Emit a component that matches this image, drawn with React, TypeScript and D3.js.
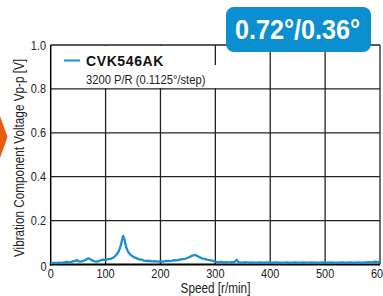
import React, { useEffect, useRef } from 'react';
import * as d3 from 'd3';

// speed [r/min] and vibration component voltage Vp-p [V]
const speeds = [
  0, 5, 10, 15, 20, 25, 30, 35, 40, 45, 48, 50, 55, 60, 65, 68, 70, 75, 80, 85,
  90, 95, 100, 105, 110, 115, 120, 124, 127, 130, 132, 134, 136, 138, 141, 145,
  150, 155, 160, 165, 170, 175, 180, 185, 190, 195, 200, 205, 210, 215, 220, 225,
  230, 235, 240, 245, 250, 255, 260, 263, 266, 270, 275, 280, 285, 290, 295, 300,
  305, 310, 315, 320, 325, 330, 335, 339, 342, 345, 350, 355, 360, 365, 370, 375,
  380, 385, 390, 395, 400, 405, 410, 415, 420, 425, 430, 435, 440, 445, 450, 455,
  460, 465, 470, 475, 480, 485, 490, 495, 500, 505, 510, 515, 520, 525, 530, 535,
  540, 545, 550, 555, 560, 565, 570, 575, 580, 585, 590, 595, 600,
];
const voltages = [
  0.005, 0.008, 0.006, 0.009, 0.007, 0.010, 0.012, 0.010, 0.014, 0.016, 0.021, 0.014, 0.013, 0.017, 0.022, 0.028, 0.027, 0.019, 0.014, 0.013,
  0.018, 0.022, 0.021, 0.024, 0.026, 0.033, 0.045, 0.060, 0.080, 0.112, 0.130, 0.118, 0.095, 0.075, 0.058, 0.045,
  0.036, 0.030, 0.025, 0.022, 0.018, 0.016, 0.017, 0.014, 0.015, 0.013, 0.014, 0.013, 0.016, 0.015, 0.017, 0.020,
  0.019, 0.022, 0.024, 0.026, 0.031, 0.037, 0.042, 0.044, 0.040, 0.035, 0.028, 0.026, 0.022, 0.020, 0.017, 0.013,
  0.011, 0.012, 0.010, 0.011, 0.009, 0.011, 0.012, 0.021, 0.011, 0.010, 0.009, 0.011, 0.008, 0.010, 0.009, 0.008,
  0.010, 0.009, 0.008, 0.010, 0.009, 0.008, 0.010, 0.009, 0.008, 0.009, 0.010, 0.008, 0.009, 0.010, 0.008, 0.009,
  0.010, 0.008, 0.009, 0.010, 0.009, 0.008, 0.009, 0.010, 0.009, 0.008, 0.010, 0.009, 0.009, 0.008, 0.010, 0.009,
  0.009, 0.010, 0.008, 0.009, 0.010, 0.009, 0.008, 0.010, 0.011, 0.009, 0.013, 0.011, 0.012,
];
const xTicks = [0, 100, 200, 300, 400, 500, 600];
const yTicks = [0, 0.2, 0.4, 0.6, 0.8, 1.0];
const seriesName = 'CVK546AK';
const seriesNote = '3200 P/R (0.1125°/step)';
const badgeText = '0.72°/0.36°';

// no condensed face is installed, so squeeze Liberation Sans horizontally
const FONT = '"Liberation Sans", Arial, sans-serif';
const SQUEEZE = 0.84;
const BLUE = '#1a90d2';

const App = () => {
  const svgRef = useRef<SVGSVGElement>(null);

  useEffect(() => {
    const svg = d3.select(svgRef.current);
    svg.selectAll('*').remove();

    const width = 383;
    const height = 296;
    const margin = { top: 45, right: 3, bottom: 31.5, left: 50.7 };

    const x = d3.scaleLinear().domain([0, 600]).range([margin.left, width - margin.right]);
    const y = d3.scaleLinear().domain([0, 1]).range([height - margin.bottom, margin.top]);

    // orange arrow at the left edge
    svg.append('path')
      .attr('d', 'M0,116 L7.5,137 L0,158 Z')
      .attr('fill', '#ea5a0f');

    // grid
    svg.append('g')
      .selectAll('line')
      .data(xTicks.slice(1))
      .enter().append('line')
      .attr('x1', d => x(d)).attr('x2', d => x(d))
      .attr('y1', y(0)).attr('y2', y(1))
      .attr('stroke', '#222').attr('stroke-width', 1.3);

    svg.append('g')
      .selectAll('line')
      .data(yTicks.slice(1))
      .enter().append('line')
      .attr('x1', x(0)).attr('x2', x(600))
      .attr('y1', d => y(d)).attr('y2', d => y(d))
      .attr('stroke', '#222').attr('stroke-width', 1.3);

    // legend box hides the grid behind it
    svg.append('rect')
      .attr('x', x(0) + 1).attr('y', y(1) + 1)
      .attr('width', 161).attr('height', 42)
      .attr('fill', '#fff');
    svg.append('rect')
      .attr('x', x(0) + 1).attr('y', y(1) + 20)
      .attr('width', 168).attr('height', 23)
      .attr('fill', '#fff');

    // axes
    svg.append('line')
      .attr('x1', x(0)).attr('x2', x(0))
      .attr('y1', y(0) + 1).attr('y2', y(1))
      .attr('stroke', '#000').attr('stroke-width', 1.5);
    svg.append('line')
      .attr('x1', x(0) - 1).attr('x2', x(600))
      .attr('y1', y(0)).attr('y2', y(0))
      .attr('stroke', '#000').attr('stroke-width', 2);

    // tick labels
    svg.append('g')
      .selectAll('text')
      .data(yTicks)
      .enter().append('text')
      .attr('transform', d => `translate(${d === 0 ? 46.5 : 46},${y(d) + (d === 0 ? 6 : 4.5)}) scale(${SQUEEZE},1)`)
      .attr('text-anchor', 'end')
      .attr('font-family', FONT).attr('font-size', 13).attr('fill', '#222')
      .text(d => (d === 0 ? '0' : d.toFixed(1)));

    svg.append('g')
      .selectAll('text')
      .data(xTicks)
      .enter().append('text')
      .attr('transform', d => `translate(${x(d)},278) scale(${SQUEEZE},1)`)
      .attr('text-anchor', 'middle')
      .attr('font-family', FONT).attr('font-size', 13).attr('fill', '#222')
      .text(d => String(d));

    // axis titles
    svg.append('text')
      .attr('transform', `translate(24,158) rotate(-90) scale(${SQUEEZE},1)`)
      .attr('text-anchor', 'middle')
      .attr('font-family', FONT).attr('font-size', 14).attr('fill', '#222')
      .text('Vibration Component Voltage Vp-p [V]');
    svg.append('text')
      .attr('transform', `translate(215.5,293) scale(${SQUEEZE},1)`)
      .attr('text-anchor', 'middle')
      .attr('font-family', FONT).attr('font-size', 14).attr('fill', '#222')
      .text('Speed [r/min]');

    // curve
    const pts: [number, number][] = speeds.map((s, i) => [s, voltages[i]]);
    const line = d3.line<[number, number]>()
      .x(d => x(d[0]))
      .y(d => y(d[1]));
    svg.append('path')
      .datum(pts)
      .attr('d', line)
      .attr('fill', 'none')
      .attr('stroke', BLUE)
      .attr('stroke-width', 2.3)
      .attr('stroke-linejoin', 'round');

    // legend
    svg.append('line')
      .attr('x1', 64).attr('x2', 80)
      .attr('y1', 60.5).attr('y2', 60.5)
      .attr('stroke', BLUE).attr('stroke-width', 2);
    svg.append('text')
      .attr('x', 86).attr('y', 65.5)
      .attr('font-family', FONT)
      .attr('font-weight', 'bold').attr('font-size', 14).attr('letter-spacing', 0.6)
      .attr('fill', '#111')
      .text(seriesName);
    svg.append('text')
      .attr('transform', `translate(86,84) scale(0.83,1)`)
      .attr('font-family', FONT).attr('font-size', 13.5).attr('fill', '#222')
      .text(seriesNote);

    // badge
    svg.append('rect')
      .attr('x', 226).attr('y', 7)
      .attr('width', 145).attr('height', 45)
      .attr('rx', 8)
      .attr('fill', '#0b8fd0');
    svg.append('text')
      .attr('x', 235).attr('y', 39)
      .attr('font-family', FONT).attr('font-weight', 'bold')
      .attr('font-size', 28)
      .attr('textLength', 125).attr('lengthAdjust', 'spacingAndGlyphs')
      .attr('fill', '#fff')
      .text(badgeText);
  }, []);

  return (
    <svg
      ref={svgRef}
      width={383}
      height={296}
      style={{ position: 'absolute', left: 0, top: 0, background: '#fff' }}
    />
  );
};

export default App;
